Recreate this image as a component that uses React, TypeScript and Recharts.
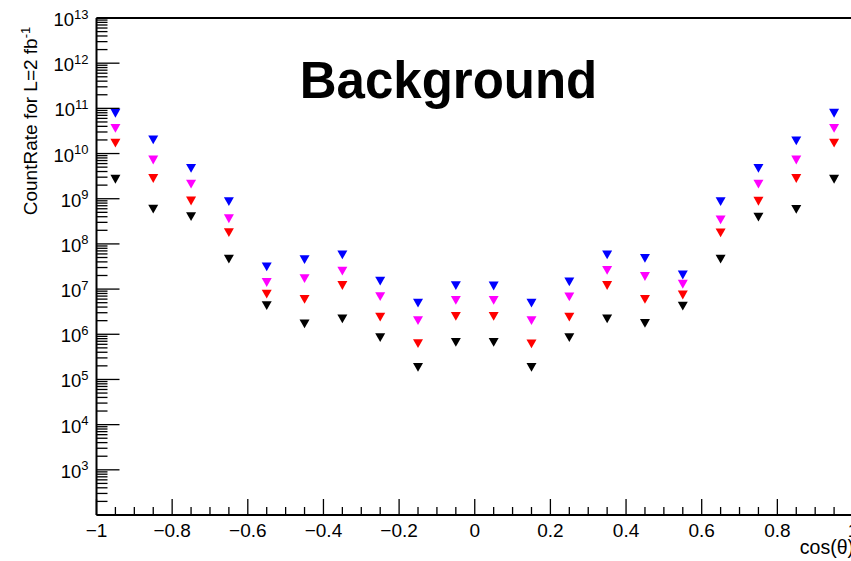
import { ScatterChart, Scatter, XAxis, YAxis, ReferenceLine } from "recharts";

const FONT = "'Liberation Sans', Arial, sans-serif";

// bin centres of cos(theta)
const BINS = [
  -0.95, -0.85, -0.75, -0.65, -0.55, -0.45, -0.35, -0.25, -0.15, -0.05,
  0.05, 0.15, 0.25, 0.35, 0.45, 0.55, 0.65, 0.75, 0.85, 0.95,
];

const BLUE = [
  7.8e10, 2.0e10, 4.7e9, 8.6e8, 3.1e7, 4.5e7, 5.7e7, 1.5e7, 4.9e6, 1.19e7,
  1.17e7, 4.9e6, 1.44e7, 5.7e7, 4.8e7, 2.05e7, 8.6e8, 4.7e9, 1.9e10, 7.8e10,
];
const MAGENTA = [
  3.6e10, 7.2e9, 2.1e9, 3.6e8, 1.4e7, 1.7e7, 2.5e7, 6.8e6, 2.0e6, 5.6e6,
  5.6e6, 2.0e6, 6.7e6, 2.6e7, 1.9e7, 1.28e7, 3.4e8, 2.1e9, 7.2e9, 3.6e10,
];
const RED = [
  1.7e10, 2.8e9, 8.9e8, 1.77e8, 7.7e6, 5.9e6, 1.2e7, 2.4e6, 6.2e5, 2.5e6,
  2.5e6, 6.1e5, 2.4e6, 1.2e7, 5.9e6, 7.4e6, 1.75e8, 8.8e8, 2.8e9, 1.7e10,
];
const BLACK = [
  2.7e9, 5.9e8, 4.0e8, 4.6e7, 4.3e6, 1.7e6, 2.2e6, 8.4e5, 1.86e5, 6.6e5,
  6.6e5, 1.86e5, 8.4e5, 2.2e6, 1.75e6, 4.2e6, 4.6e7, 3.9e8, 5.8e8, 2.7e9,
];

const SERIES = [
  { name: "blue", color: "#0000ff", values: BLUE },
  { name: "magenta", color: "#ff00ff", values: MAGENTA },
  { name: "red", color: "#ff0000", values: RED },
  { name: "black", color: "#000000", values: BLACK },
];

const X_MAJOR = [-1, -0.8, -0.6, -0.4, -0.2, 0, 0.2, 0.4, 0.6, 0.8, 1];
const X_LABELS = ["\u22121", "\u22120.8", "\u22120.6", "\u22120.4", "\u22120.2", "0", "0.2", "0.4", "0.6", "0.8", "1"];
const Y_EXP = [2, 3, 4, 5, 6, 7, 8, 9, 10, 11, 12, 13];
const Y_LABELLED_FROM = 3;

// 0.05 steps between the major x ticks
const X_TICKS: number[] = [];
for (let i = 0; i <= 40; i++) X_TICKS.push(Math.round((-1 + i * 0.05) * 100) / 100);

// 1..9 x 10^n for every decade
const Y_TICKS: number[] = [];
Y_EXP.forEach((e, i) => {
  if (i === Y_EXP.length - 1) {
    Y_TICKS.push(Math.pow(10, e));
    return;
  }
  for (let k = 1; k <= 9; k++) Y_TICKS.push(k * Math.pow(10, e));
});

function XTick(props: any) {
  const { x, y, payload } = props;
  const idx = X_MAJOR.findIndex((m) => Math.abs(m - payload.value) < 1e-6);
  const major = idx >= 0;
  return (
    <g>
      <line x1={x} x2={x} y1={y} y2={y - (major ? 16 : 8)} stroke="#000" strokeWidth={1.3} />
      {major && (
        <text x={x} y={y + 21.5} textAnchor="middle" fontSize={19} fill="#000" fontFamily={FONT}>
          {X_LABELS[idx]}
        </text>
      )}
    </g>
  );
}

function YTick(props: any) {
  const { x, y, payload } = props;
  const e = Math.log10(payload.value);
  const major = Math.abs(e - Math.round(e)) < 1e-6;
  return (
    <g>
      <line x1={x} x2={x + (major ? 23 : 11)} y1={y} y2={y} stroke="#000" strokeWidth={1.3} />
      {major && Math.round(e) >= Y_LABELLED_FROM && (
        <text x={x - 8} y={y + 8} textAnchor="end" fontSize={18.5} fill="#000" fontFamily={FONT}>
          10
          <tspan dy={-7.5} fontSize={13}>
            {Math.round(e)}
          </tspan>
        </text>
      )}
    </g>
  );
}

function TriangleDown(props: any) {
  const { cx, cy, fill } = props;
  if (cx == null || cy == null) return null;
  const w = 5;
  const h = 4.4;
  return <path d={`M${cx - w},${cy - h} L${cx + w},${cy - h} L${cx},${cy + h} Z`} fill={fill} />;
}

export default function App() {
  return (
    <div
      style={{
        position: "absolute",
        left: 0,
        top: 0,
        width: 851,
        height: 561,
        overflow: "hidden",
        background: "#fff",
      }}
    >
      <ScatterChart width={870} height={561} margin={{ top: 18, right: 17, bottom: 16, left: 0 }}>
        <XAxis
          type="number"
          dataKey="x"
          domain={[-1, 1]}
          ticks={X_TICKS}
          interval={0}
          tickSize={0}
          tickMargin={0}
          tick={<XTick />}
          height={30}
          allowDataOverflow
          axisLine={{ stroke: "#000", strokeWidth: 2 }}
        />
        <YAxis
          type="number"
          dataKey="y"
          scale="log"
          domain={[1e2, 1e13]}
          ticks={Y_TICKS}
          interval={0}
          tickSize={0}
          tickMargin={0}
          tick={<YTick />}
          width={96.5}
          allowDataOverflow
          axisLine={{ stroke: "#000", strokeWidth: 2 }}
        />
        <ReferenceLine y={1e13} stroke="#000" strokeWidth={2} ifOverflow="visible" />
        <ReferenceLine x={1} stroke="#000" strokeWidth={2} ifOverflow="visible" />
        {SERIES.map((s) => (
          <Scatter
            key={s.name}
            name={s.name}
            data={BINS.map((b, i) => ({ x: b, y: s.values[i] }))}
            fill={s.color}
            shape={<TriangleDown />}
            isAnimationActive={false}
          />
        ))}
        <text x={448.5} y={98} textAnchor="middle" fontSize={51} fontWeight="bold" fill="#000" fontFamily={FONT}>
          Background
        </text>
        <text
          x={36.5}
          y={121}
          transform="rotate(-90, 36.5, 121)"
          textAnchor="middle"
          fontSize={19}
          fill="#000"
          fontFamily={FONT}
        >
          CountRate for L=2 fb
          <tspan dy={-7} fontSize={13}>
            -1
          </tspan>
        </text>
        <text x={854} y={554} textAnchor="end" fontSize={19.5} fill="#000" fontFamily={FONT}>
          cos(θ)
        </text>
      </ScatterChart>
    </div>
  );
}
